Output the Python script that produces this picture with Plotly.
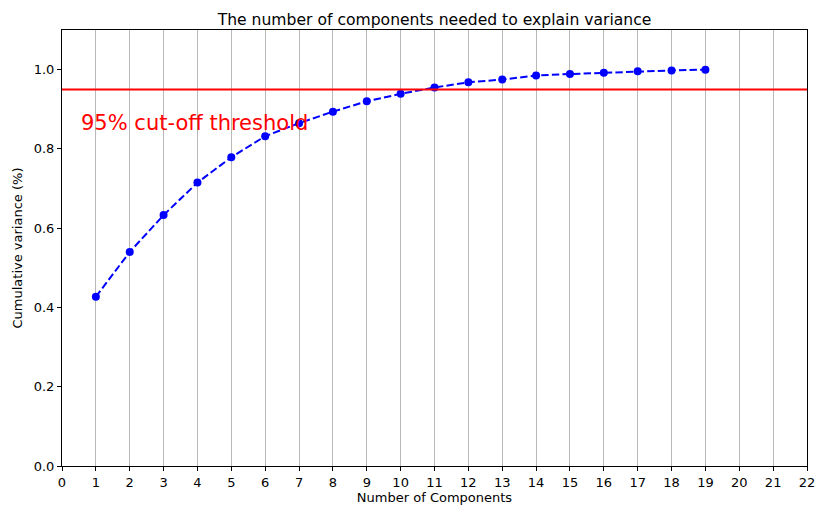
import plotly.graph_objects as go

# Cumulative explained variance per number of principal components
n_components = list(range(1, 20))
cumulative_variance = [0.427, 0.540, 0.633, 0.715, 0.779, 0.832, 0.865, 0.894,
                       0.920, 0.939, 0.955, 0.968, 0.975, 0.985, 0.989, 0.992,
                       0.996, 0.998, 1.000]
threshold = 0.95
x_ticks = list(range(0, 23))
y_ticks = [0.0, 0.2, 0.4, 0.6, 0.8, 1.0]

FONT = "DejaVu Sans"

fig = go.Figure()

fig.add_trace(go.Scatter(
    x=n_components,
    y=cumulative_variance,
    mode="lines+markers",
    line=dict(color="blue", width=2, dash="7.4px,3.2px"),
    marker=dict(color="blue", size=8),
    showlegend=False,
))

# 95% cut-off line across the full width
fig.add_shape(type="line", xref="paper", yref="y", x0=0, x1=1,
              y0=threshold, y1=threshold,
              line=dict(color="red", width=2))

fig.add_annotation(x=0.5, y=0.85, xref="x", yref="y",
                   text="95% cut-off threshold", showarrow=False,
                   xanchor="left", yanchor="bottom", yshift=-8,
                   font=dict(family=FONT, size=21, color="red"))

axis_common = dict(
    showline=True, linecolor="black", linewidth=1, mirror=True,
    ticks="outside", ticklen=4, tickwidth=1, tickcolor="black",
    tickfont=dict(family=FONT, size=13, color="black"),
    zeroline=False, automargin=False,
)

fig.update_xaxes(
    range=[0, 22], tickvals=x_ticks, ticktext=[str(t) for t in x_ticks],
    showgrid=True, gridcolor="#b8b8b8", gridwidth=1,
    title=dict(text="Number of Components", standoff=4,
               font=dict(family=FONT, size=13, color="black")),
    **axis_common,
)
fig.update_yaxes(
    range=[0, 1.1], tickvals=y_ticks, ticktext=[f"{t:.1f}" for t in y_ticks],
    showgrid=False,
    title=dict(text="Cumulative variance (%)", standoff=8,
               font=dict(family=FONT, size=13, color="black")),
    **axis_common,
)

fig.update_layout(
    width=817, height=506,
    margin=dict(l=62, r=10, t=30, b=40),
    plot_bgcolor="white", paper_bgcolor="white",
    title=dict(text="The number of components needed to explain variance",
               x=(62 + 807) / 2 / 817, xanchor="center",
               y=1 - 25 / 506, yanchor="bottom", yref="container",
               font=dict(family=FONT, size=15.6, color="black")),
)

fig.write_html("out.html")
